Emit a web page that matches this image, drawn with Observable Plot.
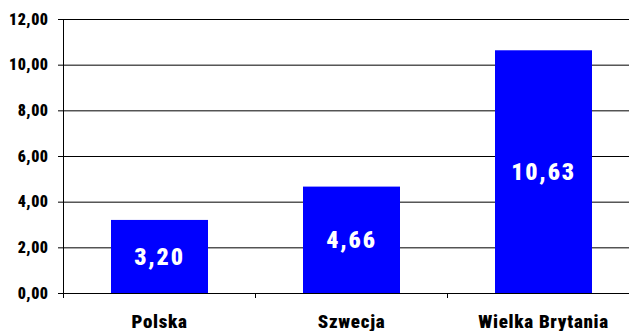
<!DOCTYPE html>
<html><head><meta charset="utf-8">
<script src="https://cdn.jsdelivr.net/npm/d3@7"></script>
<script src="https://cdn.jsdelivr.net/npm/@observablehq/plot@0.6"></script>
<style>
html,body{margin:0;padding:0;background:#fff;overflow:hidden;}
svg text{font-stretch:condensed;}
</style></head><body><div id="chart"></div>
<script>
const categories = ["Polska", "Szwecja", "Wielka Brytania"];
const values = [3.20, 4.66, 10.63];
const yTicks = [0, 2, 4, 6, 8, 10, 12];

const data = categories.map((c, i) => ({name: c, i, value: values[i]}));
const fmt = v => d3.format(".2f")(v).replace(".", ",");
const font = "'Roboto Condensed', Roboto, sans-serif";

const plot = Plot.plot({
  width: 629, height: 331,
  marginLeft: 63, marginRight: -10, marginTop: 19, marginBottom: 38,
  style: {fontFamily: font, fontWeight: "900", background: "#fff", overflow: "hidden", color: "#000"},
  x: {type: "linear", domain: [0, 3]},
  y: {domain: [0, 12]},
  marks: [
    Plot.ruleY(yTicks, {stroke: "#000"}),
    Plot.rectY(data, {x1: d => d.i, x2: d => d.i + 1, y: "value", fill: "#0000ff", insetLeft: 48, insetRight: 47}),
    Plot.text(data, {x: d => d.i + 0.5, y: d => d.value / 2, text: d => fmt(d.value), fill: "#fff", fontSize: 24, fontWeight: "900"}),
    Plot.ruleX([0], {stroke: "#000"}),
    Plot.axisY({ticks: yTicks, tickFormat: fmt, tickSize: 5, tickPadding: 10, fontSize: 16, fontWeight: "900", label: null}),
    Plot.axisX({ticks: [0, 1, 2, 3], tickFormat: () => "", tickSize: 5, label: null}),
    Plot.axisX({ticks: [0.5, 1.5, 2.5], tickFormat: v => categories[Math.floor(v)], tickSize: 0, tickPadding: 21, fontSize: 19, fontWeight: "900", label: null})
  ]
});
const svg = d3.select(plot);
svg.selectAll('g[aria-label="y-axis tick label"]').style("letter-spacing", "0.5px");
svg.selectAll('g[aria-label="x-axis tick label"]').style("letter-spacing", "0.7px");
svg.selectAll('g[aria-label="text"]').style("letter-spacing", "1.8px");
document.getElementById("chart").appendChild(plot);
</script></body></html>
